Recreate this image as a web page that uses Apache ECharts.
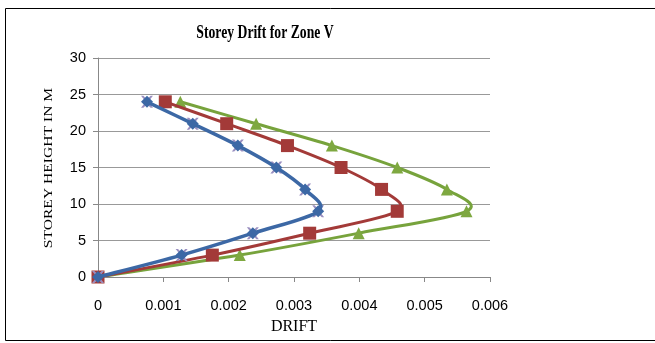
<!DOCTYPE html>
<html><head><meta charset="utf-8">
<script src="https://cdn.jsdelivr.net/npm/echarts@6/dist/echarts.min.js"></script>
<style>html,body{margin:0;padding:0;background:#fff}#c{width:655px;height:343px}</style>
</head><body><div id="c"></div>
<script>
const heights = [0, 3, 6, 9, 12, 15, 18, 21, 24];
const driftBlue  = [0, 0.00128, 0.00237, 0.00337, 0.00317, 0.00273, 0.00214, 0.00145, 0.00075];
const driftRed   = [0, 0.00175, 0.00324, 0.00458, 0.00434, 0.00372, 0.00290, 0.00197, 0.00103];
const driftGreen = [0, 0.00217, 0.00399, 0.00564, 0.00534, 0.00458, 0.00358, 0.00242, 0.00126];
const xTicks = [0, 0.001, 0.002, 0.003, 0.004, 0.005, 0.006];
const yTicks = [0, 5, 10, 15, 20, 25, 30];
const titleText = 'Storey Drift for Zone V';
const xName = 'DRIFT';
const yName = 'STOREY HEIGHT IN M';

const pairs = (xs) => xs.map((x, i) => [x, heights[i]]);
const chart = echarts.init(document.getElementById('c'), null, {renderer: 'canvas'});
const xPath = 'path://M0,0L2,0L5,3L8,0L10,0L6,5L10,10L8,10L5,7L2,10L0,10L4,5Z';

// Smoothed line (Catmull-Rom, like a spreadsheet "smoothed line"), positioned via api.coord
function smoothLine(xs, color, width) {
  return {
    type: 'custom', data: pairs(xs), encode: {x: 0, y: 1}, silent: true, clip: true,
    renderItem: function (params, api) {
      if (params.dataIndex !== 0) return null;
      const p = xs.map((x, i) => api.coord([x, heights[i]]));
      let d = 'M' + p[0][0] + ' ' + p[0][1];
      for (let i = 0; i < p.length - 1; i++) {
        const p0 = p[Math.max(0, i - 1)], p1 = p[i], p2 = p[i + 1], p3 = p[Math.min(p.length - 1, i + 2)];
        const c1x = p1[0] + (p2[0] - p0[0]) / 6, c1y = p1[1] + (p2[1] - p0[1]) / 6;
        const c2x = p2[0] - (p3[0] - p1[0]) / 6, c2y = p2[1] - (p3[1] - p1[1]) / 6;
        d += ' C' + c1x + ' ' + c1y + ' ' + c2x + ' ' + c2y + ' ' + p2[0] + ' ' + p2[1];
      }
      return {type: 'path', shape: {pathData: d}, style: {fill: 'none', stroke: color, lineWidth: width, lineJoin: 'round', lineCap: 'round'}};
    }
  };
}

chart.setOption({
  animation: false,
  graphic: [
    {type: 'rect', shape: {x: 5.5, y: 8.5, width: 660, height: 332}, style: {fill: 'none', stroke: '#000', lineWidth: 1}, z: 100},
    {type: 'text', x: 265, y: 33, scaleX: 0.76, style: {text: titleText, fill: '#000', font: 'bold 18px "Liberation Serif"', align: 'center', verticalAlign: 'middle'}},
    {type: 'text', x: 49, y: 168, rotation: Math.PI / 2, scaleX: 1.3, style: {text: yName, fill: '#000', font: '12px "Liberation Serif"', align: 'center', verticalAlign: 'middle'}}
  ],
  grid: {left: 98, right: 165, top: 58, bottom: 66},
  xAxis: {
    type: 'value', min: xTicks[0], max: xTicks[xTicks.length - 1], interval: 0.001,
    name: xName, nameLocation: 'middle', nameGap: 42,
    nameTextStyle: {fontFamily: 'Liberation Serif', fontSize: 16, color: '#000'},
    axisLine: {show: true, lineStyle: {color: '#888'}},
    axisTick: {show: true, length: 5, lineStyle: {color: '#888'}},
    splitLine: {show: false},
    axisLabel: {fontFamily: 'Liberation Sans', fontSize: 14.5, color: '#000', margin: 21,
      formatter: v => String(Math.round(v * 1000) / 1000)}
  },
  yAxis: {
    type: 'value', min: yTicks[0], max: yTicks[yTicks.length - 1], interval: 5,
    axisLine: {show: true, lineStyle: {color: '#888'}},
    axisTick: {show: true, length: 5, lineStyle: {color: '#888'}},
    splitLine: {show: true, lineStyle: {color: '#999', width: 1}},
    axisLabel: {fontFamily: 'Liberation Sans', fontSize: 14.5, color: '#000', margin: 12}
  },
  series: [
    Object.assign(smoothLine(driftGreen, '#77a33c', 3), {z: 2}),
    {type: 'scatter', data: pairs(driftGreen), symbol: 'triangle', symbolSize: 12, itemStyle: {color: '#7ea840', opacity: 1}, z: 3},
    Object.assign(smoothLine(driftRed, '#a33a38', 3), {z: 4}),
    {type: 'scatter', data: pairs(driftRed), symbol: 'rect', symbolSize: 13, itemStyle: {color: '#a33a38', opacity: 1}, z: 5},
    {type: 'scatter', data: pairs(driftBlue), symbol: xPath, symbolSize: 12, itemStyle: {color: '#9a8fc0', opacity: 1}, z: 6},
    Object.assign(smoothLine(driftBlue, '#3c68a5', 3.5), {z: 7}),
    {type: 'scatter', data: pairs(driftBlue), symbol: 'diamond', symbolSize: 12, itemStyle: {color: '#3c68a5', opacity: 1}, z: 8}
  ]
});
</script></body></html>
